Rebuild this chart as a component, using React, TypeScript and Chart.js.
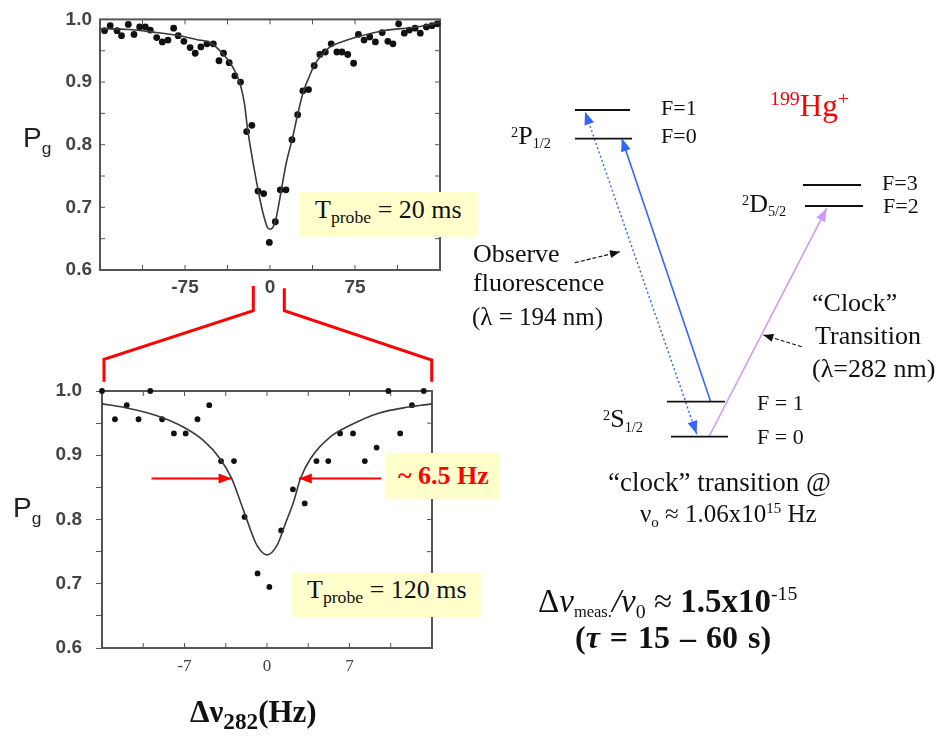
import React, { useEffect, useRef } from 'react';
import { Chart, registerables } from 'chart.js';
Chart.register(...registerables);

// ---------- Top panel (T_probe = 20 ms) ----------
const topFreq = [-146,-141,-135,-131,-125,-120,-115,-110,-105.6,-100,-95,-90,-85,-81,-76,-70.5,-66,-61,-55.6,-50,-45,-41,-36,-31,-26,-20.6,-16,-10.6,-5.6,-0.6,4.7,9.1,14.1,19.4,24.4,29,34,39,44,48.8,54,59,63.5,68.6,73.8,78,83,88,93,99,104,108.5,113.5,118.5,123,128,132.6,138,143,147.6];
const topPg = [0.982,0.990,0.982,0.974,0.992,0.976,0.988,0.988,0.983,0.971,0.964,0.967,0.986,0.974,0.965,0.955,0.946,0.956,0.961,0.961,0.934,0.946,0.931,0.910,0.900,0.821,0.831,0.726,0.722,0.644,0.677,0.728,0.728,0.808,0.848,0.886,0.888,0.926,0.944,0.948,0.961,0.948,0.948,0.944,0.930,0.976,0.967,0.972,0.964,0.979,0.965,0.961,0.993,0.978,0.983,0.986,0.978,0.988,0.990,0.993];
const topFitFreq = [-150,-125,-100,-80,-65,-52,-42,-35,-30,-26,-22.5,-20,-16,-12,-8,-5,-2.5,0,2.5,5,7.5,10,14.5,19.5,25,29.7,35,38.5,45,53,65,75,100,130,150];
const topFitPg = [0.985,0.984,0.979,0.974,0.968,0.962,0.946,0.930,0.914,0.895,0.865,0.828,0.782,0.742,0.705,0.683,0.669,0.665,0.668,0.680,0.702,0.728,0.772,0.808,0.853,0.886,0.910,0.925,0.942,0.956,0.965,0.971,0.982,0.988,0.995];
const topXLabels = [-75, 0, 75];

// ---------- Bottom panel (T_probe = 120 ms) ----------
const botFreq = [-14.6,-14,-12.9,-11.9,-10.9,-9.9,-8.9,-7.9,-6.9,-5.9,-4.9,-3.9,-2.8,-1.9,-0.8,0.2,1.2,2.2,3.2,4.2,5.2,6.2,7.3,8.3,9.3,10.3,11.3,12.3,13.3];
const botPg = [0.955,1.0,0.956,0.978,0.956,1.0,0.956,0.934,0.934,0.956,0.978,0.891,0.891,0.804,0.716,0.695,0.783,0.847,0.825,0.891,0.891,0.934,0.934,0.891,0.912,1.0,0.934,0.978,1.0];
const botFitFreq = [-14,-12,-9.4,-7.1,-5.4,-4,-3,-2.3,-1.6,-0.86,0,0.86,1.57,2.3,2.8,3.7,5.4,7.1,9.4,12,14];
const botFitPg = [0.980,0.974,0.962,0.944,0.923,0.895,0.864,0.830,0.794,0.760,0.745,0.760,0.794,0.830,0.862,0.895,0.929,0.947,0.965,0.975,0.980];
const botXLabels = [-7, 0, 7];
const fwhmPg = 0.864;
const fwhmLeftFreq = [-9.8, -3.0];
const fwhmRightFreq = [9.7, 2.7];

// ---------- Level diagram (page units) ----------
const levelX1 = [575, 575, 803, 805, 667, 671];
const levelX2 = [630, 632, 861, 863, 725, 728];
const levelY = [110, 138.7, 185, 206, 401.7, 436.7];
const pumpX = [710.7, 621.7];
const pumpY = [401.7, 138.3];
const fluorX = [696.7, 585];
const fluorY = [434, 111.7];
const clockX = [709.3, 826.7];
const clockY = [436, 208.3];
const pointer1X = [575, 620];
const pointer1Y = [262.7, 251.7];
const pointer2X = [801.7, 763.3];
const pointer2Y = [346.7, 335];
const zoomLeftX = [253.3, 253.3, 104, 104];
const zoomLeftY = [286, 310.7, 359.3, 381.7];
const zoomRightX = [284.3, 284.3, 431.7, 431.7];
const zoomRightY = [288.3, 310.7, 360, 381.7];

const zip = (xs: number[], ys: number[]) => xs.map((x, i) => ({ x, y: ys[i] }));

const SERIF = '"Liberation Serif", "Times New Roman", serif';
const SANS = '"Liberation Sans", Arial, sans-serif';

const arrowPlugin = {
  id: 'arrowheads',
  afterDatasetsDraw(chart: any) {
    const ctx = chart.ctx;
    chart.data.datasets.forEach((ds: any, i: number) => {
      if (!ds.arrowEnd && !ds.arrowStart) return;
      const pts = chart.getDatasetMeta(i).data;
      if (pts.length < 2) return;
      const L = ds.headLength || 12;
      const W = ds.headWidth || 5;
      const draw = (tip: any, from: any) => {
        const ang = Math.atan2(tip.y - from.y, tip.x - from.x);
        ctx.save();
        ctx.translate(tip.x, tip.y);
        ctx.rotate(ang);
        ctx.beginPath();
        ctx.moveTo(0, 0);
        ctx.lineTo(-L, W);
        ctx.lineTo(-L, -W);
        ctx.closePath();
        ctx.fillStyle = ds.borderColor;
        ctx.fill();
        ctx.restore();
      };
      if (ds.arrowEnd) draw(pts[pts.length - 1], pts[pts.length - 2]);
      if (ds.arrowStart) draw(pts[0], pts[1]);
    });
  },
};

const framePlugin = {
  id: 'frame',
  beforeDatasetsDraw(chart: any, _args: any, opts: any) {
    const { ctx, chartArea: a, scales } = chart;
    const len = 5;
    ctx.save();
    ctx.strokeStyle = '#555';
    ctx.lineWidth = 1;
    const line = (x1: number, y1: number, x2: number, y2: number) => {
      ctx.beginPath();
      ctx.moveTo(x1, y1);
      ctx.lineTo(x2, y2);
      ctx.stroke();
    };
    scales.x.ticks.forEach((t: any) => {
      const px = scales.x.getPixelForValue(t.value);
      line(px, a.top, px, a.top + len);
      line(px, a.bottom, px, a.bottom - len);
    });
    scales.y.ticks.forEach((t: any) => {
      const py = scales.y.getPixelForValue(t.value);
      if (opts && opts.innerLeft) line(a.left, py, a.left + len, py);
      line(a.right, py, a.right - len, py);
    });
    ctx.lineWidth = 2;
    ctx.strokeRect(a.left, a.top, a.right - a.left, a.bottom - a.top);
    ctx.restore();
  },
};

const yTickCb = (v: any) => {
  const n = Number(v);
  return Math.abs(n * 10 - Math.round(n * 10)) < 1e-6 ? n.toFixed(1) : '';
};

function makePanel(
  canvas: HTMLCanvasElement,
  cfg: {
    pts: { x: number; y: number }[];
    fit: { x: number; y: number }[];
    extra: any[];
    xMin: number; xMax: number; xStep: number; xLabels: number[];
    yWidth: number; xHeight: number; padding: any;
    yGrid: any; yPad: number; xFont: any; xPad: number; innerLeft: boolean; radius: number;
  }
) {
  return new Chart(canvas, {
    type: 'scatter',
    data: {
      datasets: [
        {
          data: cfg.fit,
          showLine: true,
          pointRadius: 0,
          borderColor: '#3a3a3a',
          borderWidth: 1.6,
          cubicInterpolationMode: 'monotone',
        } as any,
        {
          data: cfg.pts,
          pointRadius: cfg.radius,
          pointBackgroundColor: '#111',
          pointBorderWidth: 0,
          clip: false,
        } as any,
        ...cfg.extra,
      ],
    },
    options: {
      responsive: false,
      animation: false,
      events: [],
      layout: { padding: cfg.padding },
      plugins: { legend: { display: false }, tooltip: { enabled: false }, frame: { innerLeft: cfg.innerLeft } } as any,
      scales: {
        x: {
          type: 'linear',
          min: cfg.xMin,
          max: cfg.xMax,
          grid: { display: false, drawTicks: false },
          border: { display: false },
          afterFit: (s: any) => { s.height = cfg.xHeight; },
          ticks: {
            stepSize: cfg.xStep,
            autoSkip: false,
            maxRotation: 0,
            padding: cfg.xPad,
            color: '#444',
            font: cfg.xFont,
            callback: (v: any) => {
              const n = Math.round(Number(v) * 10) / 10;
              return cfg.xLabels.includes(n) ? String(n) : '';
            },
          },
        },
        y: {
          min: 0.6,
          max: 1.0,
          grid: cfg.yGrid,
          border: { display: false },
          afterFit: (s: any) => { s.width = cfg.yWidth; },
          ticks: {
            stepSize: 0.05,
            autoSkip: false,
            padding: cfg.yPad,
            color: '#444',
            font: { family: SANS, size: 19, weight: 'bold' },
            callback: yTickCb,
          },
        },
      },
    } as any,
    plugins: [framePlugin, arrowPlugin],
  });
}

function Txt(props: { x: number; y: number; size: number; font?: string; weight?: string; color?: string; italic?: boolean; ws?: number; children: any }) {
  const { x, y, size, font = SERIF, weight = 'normal', color = '#111', italic = false, ws = 0, children } = props;
  return (
    <div
      style={{
        position: 'absolute',
        left: x,
        top: y - 0.84 * size,
        fontSize: size,
        lineHeight: size + 'px',
        fontFamily: font,
        fontWeight: weight as any,
        fontStyle: italic ? 'italic' : 'normal',
        color,
        whiteSpace: 'nowrap',
        wordSpacing: ws,
      }}
    >
      {children}
    </div>
  );
}
const Sub = (p: { children: any; s?: number; d?: number; style?: any }) => (
  <span style={{ fontSize: (p.s || 0.62) + 'em', position: 'relative', top: (p.d ?? 0.3) + 'em', lineHeight: 0, ...(p.style || {}) }}>{p.children}</span>
);
const Sup = (p: { children: any; s?: number; d?: number; style?: any }) => (
  <span style={{ fontSize: (p.s || 0.62) + 'em', position: 'relative', top: -(p.d ?? 0.75) + 'em', lineHeight: 0, ...(p.style || {}) }}>{p.children}</span>
);
const Box = (p: { x: number; y: number; w: number; h: number }) => (
  <div style={{ position: 'absolute', left: p.x, top: p.y, width: p.w, height: p.h, background: '#ffffcc' }} />
);

export default function App() {
  const topRef = useRef<HTMLCanvasElement>(null);
  const botRef = useRef<HTMLCanvasElement>(null);
  const ovRef = useRef<HTMLCanvasElement>(null);

  useEffect(() => {
    const charts: Chart[] = [];
    charts.push(
      makePanel(topRef.current!, {
        pts: zip(topFreq, topPg),
        fit: zip(topFitFreq, topFitPg),
        extra: [],
        xMin: -150, xMax: 150, xStep: 37.5, xLabels: topXLabels,
        yWidth: 100, xHeight: 30,
        padding: { top: 13, right: 20, left: 0, bottom: 0 },
        yGrid: { display: false, drawTicks: false },
        yPad: 8,
        xFont: { family: SANS, size: 19, weight: 'bold' },
        xPad: 6,
        innerLeft: true,
        radius: 3.4,
      })
    );
    charts.push(
      makePanel(botRef.current!, {
        pts: zip(botFreq, botPg),
        fit: zip(botFitFreq, botFitPg),
        extra: [
          { data: zip(fwhmLeftFreq, [fwhmPg, fwhmPg]), showLine: true, pointRadius: 0, borderColor: '#ff0000', borderWidth: 2, arrowEnd: true, headLength: 13, headWidth: 5 },
          { data: zip(fwhmRightFreq, [fwhmPg, fwhmPg]), showLine: true, pointRadius: 0, borderColor: '#ff0000', borderWidth: 2, arrowEnd: true, headLength: 13, headWidth: 5 },
        ],
        xMin: -14, xMax: 14, xStep: 3.5, xLabels: botXLabels,
        yWidth: 102, xHeight: 42,
        padding: { top: 31, right: 28, left: 0, bottom: 0 },
        yGrid: { display: true, drawOnChartArea: false, drawTicks: true, tickLength: 6, color: '#555' },
        yPad: 14,
        xFont: { family: SERIF, size: 17 },
        xPad: 8,
        innerLeft: false,
        radius: 2.9,
      })
    );

    const seg = (xs: number[], ys: number[], color: string, width: number, extra: any = {}) => ({
      data: zip(xs, ys), showLine: true, pointRadius: 0, borderColor: color, borderWidth: width, ...extra,
    });
    const overlaySets: any[] = [];
    overlaySets.push(seg(zoomLeftX, zoomLeftY, '#ff0000', 3));
    overlaySets.push(seg(zoomRightX, zoomRightY, '#ff0000', 3));
    levelY.forEach((ly, i) => overlaySets.push(seg([levelX1[i], levelX2[i]], [ly, ly], '#111', 1.8)));
    overlaySets.push(seg(pumpX, pumpY, '#3366ff', 1.6, { arrowEnd: true, headLength: 13, headWidth: 5 }));
    overlaySets.push(seg(fluorX, fluorY, '#3366ff', 1.4, { borderDash: [2, 2.5], arrowEnd: true, arrowStart: true, headLength: 13, headWidth: 5 }));
    overlaySets.push(seg(clockX, clockY, '#cc99ff', 1.6, { arrowEnd: true, headLength: 13, headWidth: 5 }));
    overlaySets.push(seg(pointer1X, pointer1Y, '#111', 1.2, { borderDash: [4, 2], arrowEnd: true, headLength: 10, headWidth: 4 }));
    overlaySets.push(seg(pointer2X, pointer2Y, '#111', 1.2, { borderDash: [4, 2], arrowEnd: true, headLength: 10, headWidth: 4 }));

    charts.push(
      new Chart(ovRef.current!, {
        type: 'scatter',
        data: { datasets: overlaySets },
        options: {
          responsive: false,
          animation: false,
          events: [],
          layout: { padding: 0 },
          plugins: { legend: { display: false }, tooltip: { enabled: false } },
          scales: {
            x: { type: 'linear', min: 0, max: 943, display: false },
            y: { type: 'linear', min: 0, max: 736, reverse: true, display: false },
          },
        } as any,
        plugins: [arrowPlugin],
      })
    );
    return () => charts.forEach((c) => c.destroy());
  }, []);

  return (
    <div style={{ position: 'fixed', left: 0, top: 0, width: 943, height: 736, background: '#fff', overflow: 'hidden' }}>
      <canvas ref={topRef} width={460} height={300} style={{ position: 'absolute', left: 0, top: 0 }} />
      <canvas ref={botRef} width={460} height={330} style={{ position: 'absolute', left: 0, top: 360 }} />
      <canvas ref={ovRef} width={943} height={736} style={{ position: 'absolute', left: 0, top: 0 }} />

      {/* axis titles */}
      <Txt x={23} y={148} size={28} font={SANS} color="#222">P<Sub s={0.62} d={0.35}>g</Sub></Txt>
      <Txt x={13} y={518} size={28} font={SANS} color="#222">P<Sub s={0.62} d={0.35}>g</Sub></Txt>
      <Txt x={190} y={722} size={31} weight="bold">Δν<Sub s={0.75} d={0.3}>282</Sub>(Hz)</Txt>

      {/* annotation boxes */}
      <Box x={300} y={192} w={177} h={45} />
      <Txt x={315} y={219} size={26}>T<Sub s={0.68} d={0.3}>probe</Sub> = 20 ms</Txt>
      <Box x={385} y={453} w={115} h={46} />
      <Txt x={398} y={485} size={26} weight="bold" color="#ff0000">~ 6.5 Hz</Txt>
      <Box x={292} y={573} w={190} h={44} />
      <Txt x={307} y={599} size={26}>T<Sub s={0.68} d={0.3}>probe</Sub> = 120 ms</Txt>

      {/* level diagram labels */}
      <Txt x={770} y={116} size={31} color="#ff0000"><Sup s={0.64} d={0.55}>199</Sup>Hg<Sup s={0.64} d={0.55}>+</Sup></Txt>
      <Txt x={661} y={115} size={22}>F=1</Txt>
      <Txt x={661} y={143.5} size={22}>F=0</Txt>
      <Txt x={511} y={145} size={26}><Sup s={0.55} d={0.5}>2</Sup>P<Sub s={0.55} d={0.3}>1/2</Sub></Txt>
      <Txt x={882} y={190} size={22}>F=3</Txt>
      <Txt x={883} y={213} size={22}>F=2</Txt>
      <Txt x={742} y={213} size={26}><Sup s={0.55} d={0.5}>2</Sup>D<Sub s={0.55} d={0.3}>5/2</Sub></Txt>
      <Txt x={473} y={262.7} size={26}>Observe</Txt>
      <Txt x={473} y={292.3} size={26}>fluorescence</Txt>
      <Txt x={472} y={325} size={25}>(λ = 194 nm)</Txt>
      <Txt x={812} y={311.7} size={26}>“Clock”</Txt>
      <Txt x={815} y={345} size={26}>Transition</Txt>
      <Txt x={812} y={378} size={26}>(λ=282 nm)</Txt>
      <Txt x={757} y={410} size={22}>F = 1</Txt>
      <Txt x={757} y={444} size={22}>F = 0</Txt>
      <Txt x={603} y={428.3} size={26}><Sup s={0.55} d={0.5}>2</Sup>S<Sub s={0.55} d={0.3}>1/2</Sub></Txt>
      <Txt x={608} y={492} size={27}>“clock” transition @</Txt>
      <Txt x={640} y={522} size={25}>ν<Sub s={0.6} d={0.3}>o</Sub> ≈ 1.06x10<Sup s={0.6} d={0.6}>15</Sup> Hz</Txt>

      {/* stability */}
      <Txt x={538} y={613} size={33}>
        Δ<i>ν</i><Sub s={0.5} d={0.3}>meas.</Sub><i>/ν</i><Sub s={0.6} d={0.3}>0</Sub> ≈ <b>1.5x10</b><Sup s={0.6} d={0.6}>-15</Sup>
      </Txt>
      <Txt x={575} y={648} size={32} weight="bold" ws={2}>(<i>τ</i> = 15 – 60 s)</Txt>
    </div>
  );
}
